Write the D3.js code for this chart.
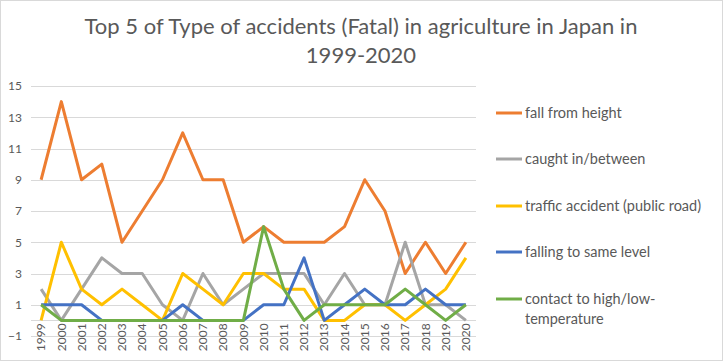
<!DOCTYPE html>
<html>
<head>
<meta charset="utf-8">
<script src="https://cdn.jsdelivr.net/npm/d3@7"></script>
<style>
  body { margin: 0; background: #fff; }
  text { font-family: Lato, "Open Sans", sans-serif; fill: #595959; }
</style>
</head>
<body>
<div id="chart"></div>
<script>
// data
var years = ["1999","2000","2001","2002","2003","2004","2005","2006","2007","2008","2009",
             "2010","2011","2012","2013","2014","2015","2016","2017","2018","2019","2020"];
var seriesNames = ["fall from height", "caught in/between", "traffic accident (public road)",
                   "falling to same level", "contact to high/low-temperature"];
var fallFromHeight = [9,14,9,10,5,7,9,12,9,9,5,6,5,5,5,6,9,7,3,5,3,5];
var caughtIn       = [2,0,2,4,3,3,1,0,3,1,2,3,3,3,1,3,1,1,5,1,1,0];
var trafficAcc     = [0,5,2,1,2,1,0,3,2,1,3,3,2,2,0,0,1,1,0,1,2,4];
var fallingSame    = [1,1,1,0,0,0,0,1,0,0,0,1,1,4,0,1,2,1,1,2,1,1];
var contactTemp    = [1,0,0,0,0,0,0,0,0,0,0,6,2,0,1,1,1,1,2,1,0,1];
var yTicks = [-1,1,3,5,7,9,11,13,15];

var allSeries = [fallFromHeight, caughtIn, trafficAcc, fallingSame, contactTemp];
var colors = ["#ED7D31", "#A5A5A5", "#FFC000", "#4472C4", "#70AD47"];

var width = 723, height = 361;
var plot = {left: 31, right: 476, top: 86, bottom: 336};

var svg = d3.select("#chart").append("svg")
    .attr("width", width)
    .attr("height", height);

// border
svg.append("rect")
    .attr("x", 0.5).attr("y", 0.5)
    .attr("width", width - 1).attr("height", height - 1)
    .attr("fill", "#fff").attr("stroke", "#d9d9d9");

// title
var title = svg.append("text")
    .attr("text-anchor", "middle")
    .style("font-size", "22px");
title.append("tspan").attr("x", 361).attr("y", 34)
    .text("Top 5 of Type of accidents (Fatal) in agriculture in Japan in");
title.append("tspan").attr("x", 361).attr("y", 63)
    .text("1999-2020");

// scales
var x = d3.scaleBand().domain(years).range([plot.left, plot.right]);
var y = d3.scaleLinear().domain([-1, 15]).range([plot.bottom, plot.top]);

// grid lines
svg.append("g").selectAll("line")
    .data(yTicks)
    .enter().append("line")
    .attr("x1", plot.left).attr("x2", plot.right)
    .attr("y1", function(d) { return Math.round(y(d)) + 0.5; })
    .attr("y2", function(d) { return Math.round(y(d)) + 0.5; })
    .attr("stroke", "#d9d9d9");

// y axis labels
var yAxis = svg.append("g")
    .attr("transform", "translate(" + (plot.left - 9) + ",0)")
    .call(d3.axisLeft(y).tickValues(yTicks).tickSize(0).tickPadding(0));
yAxis.select(".domain").remove();
yAxis.selectAll("text")
    .attr("text-anchor", "end")
    .style("font-size", "12px")
    .style("font-family", "Lato, 'Open Sans', sans-serif")
    .attr("fill", "#595959");

// category axis at zero
svg.append("line")
    .attr("x1", plot.left).attr("x2", plot.right)
    .attr("y1", Math.round(y(0)) + 0.5).attr("y2", Math.round(y(0)) + 0.5)
    .attr("stroke", "#d9d9d9");

var xAxis = svg.append("g")
    .attr("transform", "translate(0," + y(0) + ")")
    .call(d3.axisBottom(x).tickSize(0).tickPadding(0));
xAxis.select(".domain").remove();
xAxis.selectAll("text")
    .attr("transform", "rotate(-90)")
    .attr("text-anchor", "end")
    .attr("x", -3)
    .attr("y", 0)
    .attr("dy", "0.35em")
    .style("font-size", "12px")
    .style("font-family", "Lato, 'Open Sans', sans-serif")
    .attr("fill", "#595959");

// lines
var line = d3.line()
    .x(function(d, i) { return x(years[i]) + x.bandwidth() / 2; })
    .y(function(d) { return y(d); });

svg.append("g").selectAll("path")
    .data(allSeries)
    .enter().append("path")
    .attr("d", line)
    .attr("fill", "none")
    .attr("stroke", function(d, i) { return colors[i]; })
    .attr("stroke-width", 3)
    .attr("stroke-linejoin", "round");

// legend
var legendY = [113, 159, 206, 252, 299];
var legend = svg.append("g").selectAll("g")
    .data(seriesNames)
    .enter().append("g")
    .attr("transform", function(d, i) { return "translate(496," + legendY[i] + ")"; });

legend.append("line")
    .attr("x1", 0).attr("x2", 26)
    .attr("stroke", function(d, i) { return colors[i]; })
    .attr("stroke-width", 3);

legend.append("text")
    .attr("x", 29)
    .attr("dy", "0.35em")
    .style("font-size", "14.5px")
    .each(function(d) {
        var t = d3.select(this);
        if (d.indexOf("high/low-") >= 0) {
            t.append("tspan").attr("x", 29).text("contact to high/low-");
            t.append("tspan").attr("x", 29).attr("dy", "1.4em").text("temperature");
        } else {
            t.text(d);
        }
    });
</script>
</body>
</html>
